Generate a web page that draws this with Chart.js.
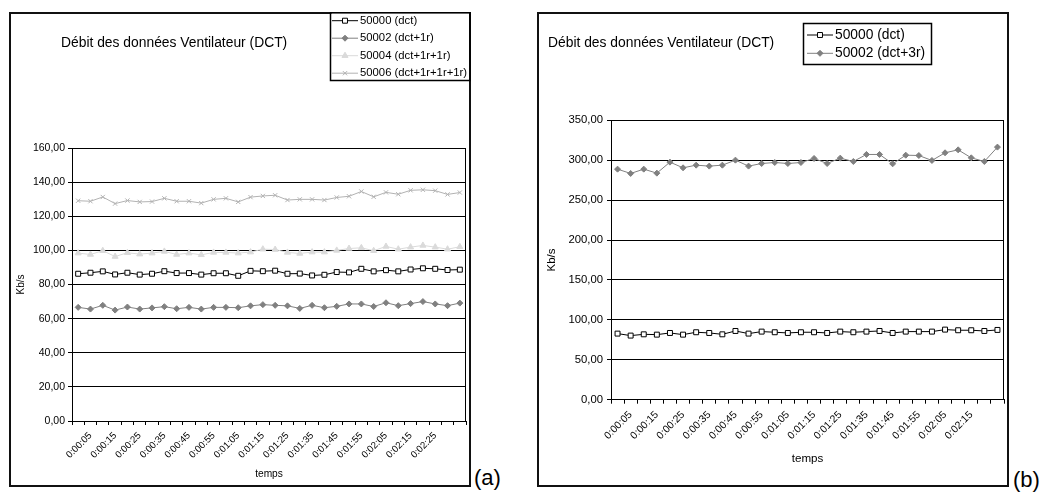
<!DOCTYPE html>
<html><head><meta charset="utf-8">
<script src="https://cdn.jsdelivr.net/npm/chart.js@4/dist/chart.umd.min.js"></script>
<style>
html,body{margin:0;padding:0;background:#fff;width:1045px;height:500px;overflow:hidden;font-family:"Liberation Sans",Arial,sans-serif;}
.box{position:absolute;border:2px solid #111;box-sizing:border-box;background:#fff;}
.cv{position:absolute;}
.tag{position:absolute;font-size:22px;color:#000;line-height:1;}
</style></head><body>
<div class="box" style="left:9px;top:12px;width:462px;height:475px"></div>
<div class="box" style="left:537px;top:12px;width:472px;height:475px"></div>
<div class="cv" style="left:9px;top:12px;"><canvas id="ca" width="462" height="475"></canvas></div>
<div class="cv" style="left:537px;top:12px;"><canvas id="cb" width="472" height="475"></canvas></div>
<span class="tag" style="left:474px;top:467px">(a)</span>
<span class="tag" style="left:1013px;top:469px">(b)</span>
<script>
const FONT = '"Liberation Sans", Arial, sans-serif';
const chartTitle = 'Débit des données Ventilateur (DCT)';

// ---- panel (a) ----
const timesA = ['0:00:00','0:00:05','0:00:10','0:00:15','0:00:20','0:00:25','0:00:30','0:00:35','0:00:40','0:00:45',
  '0:00:50','0:00:55','0:01:00','0:01:05','0:01:10','0:01:15','0:01:20','0:01:25','0:01:30','0:01:35',
  '0:01:40','0:01:45','0:01:50','0:01:55','0:02:00','0:02:05','0:02:10','0:02:15','0:02:20','0:02:25',
  '0:02:30','0:02:35'];
const shownTicksA = ['0:00:05','0:00:15','0:00:25','0:00:35','0:00:45','0:00:55','0:01:05','0:01:15',
  '0:01:25','0:01:35','0:01:45','0:01:55','0:02:05','0:02:15','0:02:25'];
const seriesNamesA = ['50000 (dct)','50002 (dct+1r)','50004 (dct+1r+1r)','50006 (dct+1r+1r+1r)'];
const valsA50000 = [86.3,86.9,87.7,85.9,86.9,85.8,86.3,87.8,86.7,86.7,85.8,86.6,86.6,85.1,88.0,87.8,88.1,86.3,86.4,85.3,85.7,87.3,87.1,89.2,87.7,88.4,87.7,88.8,89.5,89.2,88.5,88.7];
const valsA50002 = [66.6,65.6,67.8,65.0,66.8,65.6,66.3,67.0,65.8,66.6,65.6,66.6,66.6,66.4,67.5,68.2,67.8,67.5,66.0,67.8,66.4,67.2,68.6,68.6,67.1,69.3,67.6,68.8,70.0,68.6,67.6,69.1];
const valsA50004 = [98.4,97.6,99.8,96.4,98.6,97.8,98.4,99.4,97.6,98.4,97.4,98.8,98.8,98.4,99.0,100.7,100.5,98.8,98.2,99.0,99.0,100.0,101.1,101.5,99.8,102.3,100.7,101.9,102.9,101.9,100.7,102.1];
const valsA50006 = [129.1,128.8,131.3,127.4,129.2,128.4,128.6,130.5,128.8,128.8,127.7,129.9,130.5,128.4,131.2,131.9,132.3,129.5,129.9,129.9,129.5,131.0,131.7,134.5,131.4,134.0,132.9,135.2,135.5,135.0,132.8,133.9];

// ---- panel (b) ----
const timesB = ['0:00:00','0:00:05','0:00:10','0:00:15','0:00:20','0:00:25','0:00:30','0:00:35','0:00:40','0:00:45',
  '0:00:50','0:00:55','0:01:00','0:01:05','0:01:10','0:01:15','0:01:20','0:01:25','0:01:30','0:01:35',
  '0:01:40','0:01:45','0:01:50','0:01:55','0:02:00','0:02:05','0:02:10','0:02:15','0:02:20','0:02:25'];
const shownTicksB = ['0:00:05','0:00:15','0:00:25','0:00:35','0:00:45','0:00:55','0:01:05','0:01:15',
  '0:01:25','0:01:35','0:01:45','0:01:55','0:02:05','0:02:15'];
const seriesNamesB = ['50000 (dct)','50002 (dct+3r)'];
const valsB50000 = [82.8,80.3,81.9,81.5,83.6,81.5,84.5,83.6,81.9,86.1,82.8,85.3,84.5,83.6,84.5,84.5,83.6,85.3,84.5,85.3,86.1,83.6,85.3,85.3,85.3,87.8,87.0,87.0,86.1,87.4];
const valsB50002 = [288.8,283.4,288.8,283.8,297.6,290.5,293.8,292.6,293.8,300.1,292.6,295.9,297.1,295.9,297.1,302.2,295.9,302.6,298.4,307.2,307.2,295.5,306.3,305.9,299.7,309.3,313.0,303.0,298.4,316.4];

const axisTitleX = 'temps';
const axisTitleY = 'Kb/s';

// plugin: plot frame, chart title, legend box
const decor = {
  id: 'decor',
  afterDraw(chart, args, o) {
    const ctx = chart.ctx, ca = chart.chartArea;
    ctx.save();
    ctx.strokeStyle = '#000'; ctx.lineWidth = 1;
    ctx.beginPath();
    const rx = Math.round(ca.right) - 0.5;
    ctx.moveTo(rx, Math.round(ca.top)); ctx.lineTo(rx, Math.round(ca.bottom)); ctx.stroke();
    ctx.fillStyle = '#000'; ctx.textAlign = 'left'; ctx.textBaseline = 'middle';
    ctx.font = o.titleSize + 'px ' + FONT;
    ctx.fillText(o.title, o.titleX, o.titleY);
    const L = o.legend;
    ctx.fillStyle = '#fff';
    ctx.fillRect(L.x + 1, L.y + 1, L.w - 2, L.h - 2);
    ctx.strokeStyle = '#000'; ctx.lineWidth = 1.5;
    ctx.strokeRect(L.x, L.y, L.w, L.h);
    ctx.font = L.size + 'px ' + FONT;
    chart.data.datasets.forEach((ds, i) => {
      const y = L.y0 + i * L.step;
      ctx.strokeStyle = ds.borderColor; ctx.lineWidth = ds.borderWidth;
      ctx.beginPath(); ctx.moveTo(L.lineX, y); ctx.lineTo(L.lineX + L.lineW, y); ctx.stroke();
      ctx.fillStyle = ds.pointBackgroundColor; ctx.strokeStyle = ds.pointBorderColor;
      ctx.lineWidth = ds.pointBorderWidth;
      Chart.helpers.drawPoint(ctx, {pointStyle: ds.pointStyle, radius: ds.pointRadius, borderWidth: ds.pointBorderWidth, rotation: 0}, L.lineX + L.lineW / 2, y);
      ctx.fillStyle = '#000';
      ctx.fillText(ds.label, L.textX, y);
    });
    ctx.restore();
  }
};

function ds(label, data, color, style, radius, bg) {
  return {label, data, borderColor: color, borderWidth: 1, pointStyle: style, pointRadius: radius,
    pointBackgroundColor: bg, pointBorderColor: color, pointBorderWidth: 1, tension: 0, fill: false};
}

function makeChart(id, labels, shown, datasets, c) {
  return new Chart(document.getElementById(id), {
    type: 'line',
    data: {labels, datasets},
    plugins: [decor],
    options: {
      responsive: false, animation: false, events: [],
      layout: {padding: {top: c.padTop, right: c.padRight, left: 0, bottom: 0}},
      plugins: {legend: {display: false}, tooltip: {enabled: false}, title: {display: false},
        decor: {title: chartTitle, titleX: c.titleX, titleY: c.titleY, titleSize: 13.85, legend: c.legend}},
      scales: {
        x: {
          type: 'category', offset: true,
          grid: {display: true, drawOnChartArea: false, drawTicks: true, tickLength: 4, offset: true, color: '#000', lineWidth: 1},
          border: {display: true, color: '#000', width: 1},
          ticks: {autoSkip: false, minRotation: 45, maxRotation: 45, padding: c.xTickPad, color: '#000',
            font: {family: FONT, size: c.xTickSize},
            callback: (v, i) => shown.includes(labels[i]) ? labels[i] : ''},
          title: {display: true, text: axisTitleX, color: '#000', font: {family: FONT, size: c.xTitleSize}, padding: {top: 0, bottom: c.xTitlePadB}},
          afterFit: s => { s.height = c.xH; s.paddingLeft = 0; s.paddingRight = 0; }
        },
        y: {
          min: 0, max: c.yMax,
          ticks: {stepSize: c.yStep, padding: c.yTickPad, color: '#000', font: {family: FONT, size: c.yTickSize},
            callback: v => v.toFixed(2).replace('.', ',')},
          grid: {color: '#000', lineWidth: 1, tickLength: 4, drawTicks: true},
          border: {display: true, color: '#000', width: 1},
          title: {display: true, text: axisTitleY, color: '#000', font: {family: FONT, size: c.yTitleSize}, padding: {top: c.yTitlePadT, bottom: 0}},
          afterFit: s => { s.width = c.yW; s.paddingTop = 0; s.paddingBottom = 0; }
        }
      }
    }
  });
}

makeChart('ca', timesA, shownTicksA, [
  ds(seriesNamesA[0], valsA50000, '#000000', 'rect', 3.5, '#ffffff'),
  ds(seriesNamesA[1], valsA50002, '#808080', 'rectRot', 3, '#808080'),
  ds(seriesNamesA[2], valsA50004, '#dadada', 'triangle', 3.5, '#dadada'),
  ds(seriesNamesA[3], valsA50006, '#b2b2b2', 'crossRot', 3, '#b2b2b2')
], {padTop: 136, padRight: 2, xH: 66, yW: 63, yMax: 160, yStep: 20,
    xTickPad: 5, xTickSize: 9.6, xTitleSize: 10.2, xTitlePadB: 7,
    yTickPad: 3, yTickSize: 10.5, yTitleSize: 10, yTitlePadT: 6,
    titleX: 52, titleY: 31,
    legend: {x: 321.5, y: 0.5, w: 139.5, h: 68, lineX: 323, lineW: 26, textX: 351, y0: 8.7, step: 17.5, size: 11.3}});

makeChart('cb', timesB, shownTicksB, [
  ds(seriesNamesB[0], valsB50000, '#000000', 'rect', 3.5, '#ffffff'),
  ds(seriesNamesB[1], valsB50002, '#808080', 'rectRot', 3, '#808080')
], {padTop: 108.3, padRight: 2, xH: 87.3, yW: 74, yMax: 350, yStep: 50,
    xTickPad: 5, xTickSize: 10.4, xTitleSize: 11.6, xTitlePadB: 21,
    yTickPad: 4, yTickSize: 11.3, yTitleSize: 11.5, yTitlePadT: 8,
    titleX: 11, titleY: 31,
    legend: {x: 266.5, y: 11.5, w: 128, h: 41, lineX: 270, lineW: 26, textX: 298, y0: 23, step: 18.3, size: 13.8}});
</script>
</body></html>
